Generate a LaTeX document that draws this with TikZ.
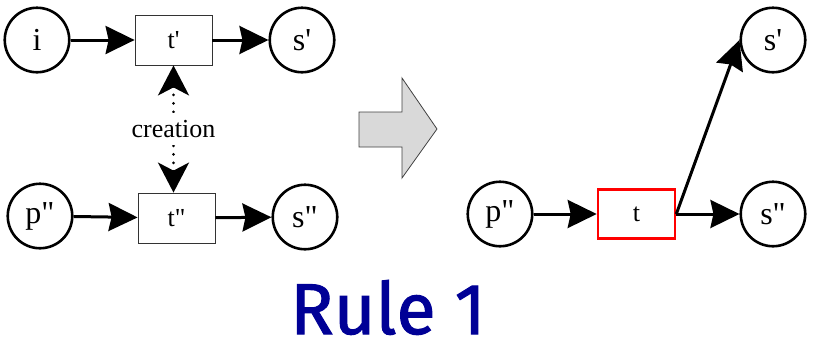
\documentclass[tikz,border=0pt]{standalone}
\usepackage{fontspec}
\setmainfont{Liberation Serif}[Ligatures=TeXOff]
\newfontfamily\rulefont{Fira Sans}[FakeBold=1.4]
\usetikzlibrary{arrows.meta}
\definecolor{rulecol}{RGB}{0,0,150}
\definecolor{arrowgray}{RGB}{217,217,217}
\tikzset{
  place/.style={circle, draw, line width=2.6pt, minimum size=64.5pt, inner sep=0pt, font=\fontsize{32}{32}\selectfont},
  trans/.style={rectangle, draw=black!80, line width=0.8pt, minimum width=77pt, minimum height=50pt, inner sep=0pt, font=\fontsize{26}{26}\selectfont},
  redtrans/.style={trans, draw=red, line width=2.6pt, minimum width=77pt, minimum height=48.5pt},
  arc/.style={line width=3pt, -{Stealth[length=29pt,width=28pt,inset=3pt]}},
  crea/.style={line width=3pt, line cap=round, dash pattern=on 0pt off 8.5pt,
    {Stealth[length=30pt,width=31pt,inset=8pt]}-{Stealth[length=30pt,width=31pt,inset=8pt]}},
}
\begin{document}
\begin{tikzpicture}[x=1pt,y=-1pt]
\useasboundingbox (0,0) rectangle (817,346);
% left part
\node[place] (i) at (37,40) {i};
\node[trans] (t1) at (173.5,40) {t'};
\node[place] (s1) at (302,40) {s'};
\node[place] (p2) at (40,216) {p"};
\node[trans] (t2) at (176.5,218) {t"};
\node[place] (s2) at (305,217) {s"};
\draw[arc] (i) -- (t1);
\draw[arc] (t1) -- (s1);
\draw[arc] (p2) -- (t2);
\draw[arc] (t2) -- (s2);
\draw[crea] (t1.south) -- (t1.south |- t2.north)
  node[midway, fill=white, inner xsep=1pt, inner ysep=7pt, font=\fontsize{26}{26}\selectfont] (cr) {creation};
% big arrow
\draw[fill=arrowgray, draw=black!75, line width=0.8pt, line join=miter]
  (359,112) -- (402,112) -- (402,78) -- (437,129) -- (402,178) -- (402,147) -- (359,147) -- cycle;
% right part
\node[place] (p3) at (500,214) {p"};
\node[redtrans] (t) at (636.5,214) {t};
\node[place] (s3) at (773,214) {s"};
\node[place] (s4) at (773,40) {s'};
\draw[arc] (p3) -- (t);
\draw[arc] (t.east) -- (s3);
\draw[arc] (t.east) -- (s4.west);
% title
\node[text=rulecol, font=\rulefont\fontsize{72}{72}\selectfont, anchor=base, inner sep=0pt, text depth=0pt] (title) at (388,334) {Rule 1};
\end{tikzpicture}
\end{document}
